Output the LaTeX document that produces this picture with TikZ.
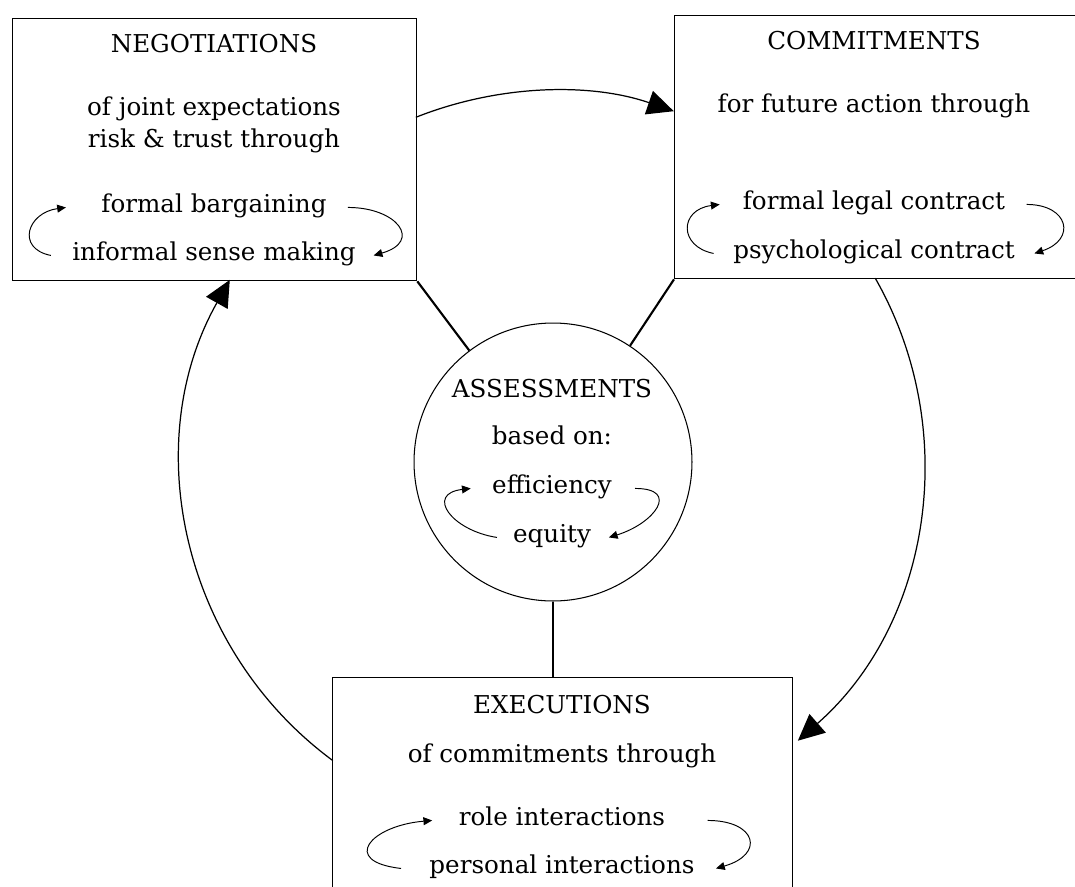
\documentclass[tikz,border=0pt]{standalone}
\usepackage{fontspec}
\setmainfont{DejaVu Serif}
\usetikzlibrary{arrows.meta}
\usetikzlibrary{calc}

\tikzset{
  box/.style={draw, line width=0.8pt, inner sep=0pt, anchor=north west},
  txt/.style={font=\fontsize{14}{16}\selectfont, inner sep=0pt, anchor=base},
  link/.style={line width=1.2pt},
  bigarrow/.style={line width=0.7pt, -{Triangle[length=15pt,width=14pt]}},
  cyc/.style={line width=0.55pt, -{Triangle[length=5pt,width=4.5pt]}}
}

\begin{document}
\begin{tikzpicture}[x=0.02cm, y=0.02cm]
  \useasboundingbox (0,0) rectangle (1075,-886);
  \clip (0,0) rectangle (1075,-886);

  % Boxes
  \node[box, minimum width=8.08cm, minimum height=5.24cm] (neg) at (12,-18) {};
  \node[box, minimum width=8.4cm, minimum height=5.26cm] (commit) at (674,-15) {};
  \node[box, minimum width=9.2cm, minimum height=5cm] (exec) at (332,-677) {};
  \node[draw, circle, line width=0.6pt, minimum size=5.56cm, inner sep=0pt] (assess) at (553,-462) {};

  % Texts
  \node[txt] (negT) at (214,-52) {NEGOTIATIONS};
  \node[txt] (negA) at (214,-115) {of joint expectations};
  \node[txt] (negB) at (214,-147) {risk \& trust through};
  \node[txt] (negF) at (214,-212) {formal bargaining};
  \node[txt] (negI) at (214,-260) {informal sense making};

  \node[txt] (comT) at (874,-49) {COMMITMENTS};
  \node[txt] (comA) at (874,-112) {for future action through};
  \node[txt] (comF) at (874,-209) {formal legal contract};
  \node[txt] (comP) at (874,-258) {psychological contract};

  \node[txt] (assT) at (552,-397) {ASSESSMENTS};
  \node[txt] (assA) at (552,-444) {based on:};
  \node[txt] (assF) at (552,-493) {efficiency};
  \node[txt] (assE) at (552,-542) {equity};

  \node[txt] (exeT) at (562,-713) {EXECUTIONS};
  \node[txt] (exeA) at (562,-762) {of commitments through};
  \node[txt] (exeR) at (562,-825) {role interactions};
  \node[txt] (exeP) at (562,-873) {personal interactions};

  % Links
  \draw[link] (neg.south east) -- (assess);
  \draw[link] (commit.south west) -- (assess);
  \draw[link] (assess.south) -- (assess.south |- exec.north);

  % Big cycle
  \draw[bigarrow] (assess.center) ++(111.7:371) arc[start angle=111.7, end angle=71, radius=371];
  \draw[bigarrow] (assess.center) ++(29.7:371) arc[start angle=29.7, end angle=-48.7, radius=371];
  \draw[bigarrow] (assess.center) ++(233.6:371) arc[start angle=233.6, end angle=150.6, radius=371];

  % Small cycles
  \draw[cyc] ([xshift=-12pt]negI.mid west) .. controls +(-20pt,4pt) and +(-22pt,-3pt) .. ([xshift=-20pt]negF.mid west);
  \draw[cyc] ([xshift=12pt]negF.mid east) .. controls +(28pt,0pt) and +(28pt,8pt) .. ([xshift=10pt]negI.mid east);
  \draw[cyc] ([xshift=-11pt]comP.mid west) .. controls +(-20pt,4pt) and +(-23pt,-3pt) .. ([xshift=-13pt]comF.mid west);
  \draw[cyc] ([xshift=12pt]comF.mid east) .. controls +(24pt,0pt) and +(24pt,8pt) .. ([xshift=11pt]comP.mid east);
  \draw[cyc] ([xshift=-9pt]assE.mid west) .. controls +(-26pt,4pt) and +(-26pt,-3pt) .. ([xshift=-12pt]assF.mid west);
  \draw[cyc] ([xshift=13pt]assF.mid east) .. controls +(26pt,0pt) and +(26pt,8pt) .. ([xshift=10pt]assE.mid east);
  \draw[cyc] ([xshift=-16pt]exeP.mid west) .. controls +(-35pt,4pt) and +(-35pt,-3pt) .. ([xshift=-15pt]exeR.mid west);
  \draw[cyc] ([xshift=24pt]exeR.mid east) .. controls +(28pt,0pt) and +(28pt,8pt) .. ([xshift=12pt]exeP.mid east);
\end{tikzpicture}
\end{document}
